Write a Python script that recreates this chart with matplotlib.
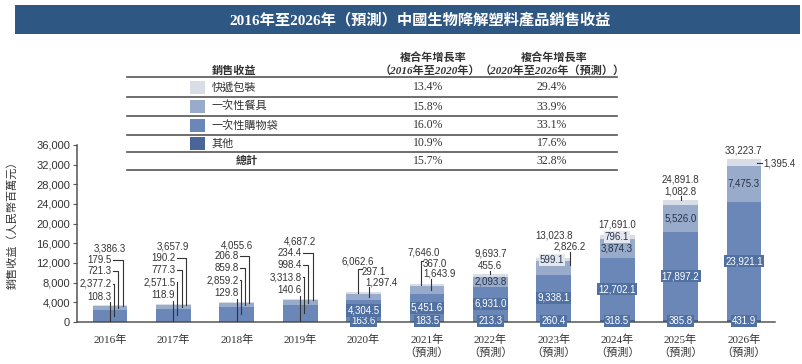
import numpy as np
import matplotlib
matplotlib.use('Agg')
import matplotlib.pyplot as plt
from matplotlib.patches import Rectangle
from matplotlib.lines import Line2D

plt.rcParams['font.family'] = ['Liberation Sans', 'Noto Sans CJK TC']

### ----- Dados ----- ###

years = ['2016年', '2017年', '2018年', '2019年', '2020年', '2021年',
         '2022年', '2023年', '2024年', '2025年', '2026年']
forecast = [False, False, False, False, False, True, True, True, True, True, True]

other = [108.3, 118.9, 129.8, 140.6, 163.6, 183.5, 213.3, 260.4, 318.5, 385.8, 431.9]
bags = [2377.2, 2571.5, 2859.2, 3313.8, 4304.5, 5451.6, 6931.0, 9338.1, 12702.1, 17897.2, 23921.1]
tableware = [721.3, 777.3, 859.8, 998.4, 1297.4, 1643.9, 2093.8, 2826.2, 3874.3, 5526.0, 7475.3]
express = [179.5, 190.2, 206.8, 234.4, 297.1, 367.0, 455.6, 599.1, 796.1, 1082.8, 1395.4]
totals = [3386.3, 3657.9, 4055.6, 4687.2, 6062.6, 7646.0, 9693.7, 13023.8, 17691.0, 24891.8, 33223.7]

segments = ['快遞包裝', '一次性餐具', '一次性購物袋', '其他']
cagr_1620 = ['13.4%', '15.8%', '16.0%', '10.9%', '15.7%']
cagr_2026 = ['29.4%', '33.9%', '33.1%', '17.6%', '32.8%']

title = '2016年至2026年（預測）中國生物降解塑料產品銷售收益'

### ----- Estilo ----- ###

W, H = 803, 364
c_exp = '#d8dde6'
c_tab = '#98abcb'
c_bag = '#6b87b8'
c_oth = '#4a6699'
c_box = '#5171a3'
txt = '#333333'
serif = ['Liberation Serif', 'Noto Sans CJK TC']
cjk = ['Noto Sans CJK TC', 'DejaVu Sans']


def fx(px):
    return px / W


def fy(py):
    return 1 - py / H


def fmt(v):
    return f'{v:,.1f}'


fig = plt.figure(figsize=(W / 100, H / 100), dpi=100)

# Banner do titulo
fig.add_artist(Rectangle((fx(15), fy(34)), fx(800) - fx(15), 29 / H,
                         transform=fig.transFigure, facecolor='#2f5783', edgecolor='none'))
fig.text(fx(420), fy(19.5), title, color='white', fontsize=11, fontweight='bold',
         family=serif, ha='center', va='center')

# Tabela
for py in [77, 97, 116, 135, 152, 170]:
    fig.add_artist(Line2D([fx(127), fx(617)], [fy(py), fy(py)], transform=fig.transFigure,
                          color='#555555', lw=1.2))

hdr = dict(fontsize=8, fontweight='bold', style='italic', family=serif, ha='center',
           va='center', color=txt)
fig.text(fx(433), fy(58), '複合年增長率', **hdr)
fig.text(fx(430), fy(71), '（2016年至2020年）', **hdr)
fig.text(fx(554), fy(58), '複合年增長率', **hdr)
fig.text(fx(552), fy(71), '（2020年至2026年（預測））', **hdr)
fig.text(fx(234), fy(71), '銷售收益', **hdr)

row_y = [87, 106.5, 125.5, 143.5, 161]
cols = [c_exp, c_tab, c_bag, c_oth]
for k in range(4):
    fig.add_artist(Rectangle((fx(190), fy(row_y[k] + 6.5)), 15 / W, 13 / H,
                             transform=fig.transFigure, facecolor=cols[k], edgecolor='none'))
    fig.text(fx(212), fy(row_y[k]), segments[k], fontsize=8, family=cjk, ha='left',
             va='center', color=txt)
fig.text(fx(247), fy(row_y[4]), '總計', **hdr)
for k in range(5):
    fig.text(fx(428), fy(row_y[k]), cagr_1620[k], fontsize=8.5, family=serif,
             ha='center', va='center', color=txt)
    fig.text(fx(552), fy(row_y[k]), cagr_2026[k], fontsize=8.5, family=serif,
             ha='center', va='center', color=txt)

# Grafico de barras
ax = fig.add_axes([fx(77), fy(322), (775 - 77) / W, 177 / H])
x = np.arange(len(years))
b1 = np.array(other)
b2 = b1 + np.array(bags)
b3 = b2 + np.array(tableware)
wid = 0.55
ax.bar(x, other, wid, color=c_oth, zorder=2)
ax.bar(x, bags, wid, bottom=b1, color=c_bag, zorder=2)
ax.bar(x, tableware, wid, bottom=b2, color=c_tab, zorder=2)
ax.bar(x, express, wid, bottom=b3, color=c_exp, zorder=2)

ax.set_xlim(-0.52, 10.49)
ax.set_ylim(0, 36000)
ax.set_yticks(range(0, 36001, 4000))
ax.set_yticklabels([f'{v:,}' for v in range(0, 36001, 4000)], fontsize=8, color=txt)
ax.set_xticks(x)
ax.set_xticklabels([y + ('\n（預測）' if f else '') for y, f in zip(years, forecast)],
                   fontsize=8, family=serif, color=txt, linespacing=1.3)
ax.tick_params(axis='x', length=0, pad=9)
ax.tick_params(axis='y', length=3, color='#555555', pad=2)
for s in ['top', 'right']:
    ax.spines[s].set_visible(False)
for s in ['left', 'bottom']:
    ax.spines[s].set_color('#555555')
    ax.spines[s].set_linewidth(1.1)

fig.text(fx(12), fy(222), '銷售收益（人民幣百萬元）', rotation=90, fontsize=8, family=cjk,
         ha='center', va='center', color=txt)

lab = dict(fontsize=7, color=txt, zorder=6)
lk = dict(color=txt, lw=0.8, zorder=5)


def boxed(xx, yy, s):
    ax.text(xx, yy, s, ha='center', va='center', fontsize=7, color='white', zorder=7,
            bbox=dict(boxstyle='square,pad=0.12', fc=c_box, ec='none'))


def inner(xx, yy, s, fc=None):
    bb = dict(boxstyle='square,pad=0.1', fc=fc, ec='none') if fc else None
    ax.text(xx, yy, s, ha='center', va='center', fontsize=7, color='#26324a', zorder=7,
            bbox=bb)


# 2016-2019: rotulos empilhados a esquerda
for i in range(4):
    top = totals[i]
    ax.text(i, top + 11600, fmt(top), ha='center', va='center', **lab)
    items = [(express[i], 9300, 0.20, top - 120),
             (tableware[i], 7000, 0.13, (b2[i] + b3[i]) / 2),
             (bags[i], 4400, 0.06, (b1[i] + b2[i]) / 2)]
    for v, off, lx, ty in items:
        yy = top + off
        ax.text(i + 0.03, yy, fmt(v), ha='right', va='center', **lab)
        ax.plot([i + 0.05, i + lx, i + lx], [yy, yy, ty], **lk)
    yy = top + 1800
    ax.text(i + 0.03, yy, fmt(other[i]), ha='right', va='center', **lab)
    ax.plot([i, i], [yy - 1100, 0], **lk)

# 2020-2026: rotulos dentro das barras
for i in range(4, 11):
    boxed(i, 150, fmt(other[i]))
    boxed(i, (b1[i] + b2[i]) / 2, fmt(bags[i]))

# 2020
i = 4
ax.text(i - 0.09, totals[i] + 6200, fmt(totals[i]), ha='center', va='center', **lab)
ax.text(i - 0.03, totals[i] + 4100, fmt(express[i]), ha='left', va='center', **lab)
ax.plot([i - 0.03, i - 0.09, i - 0.09], [totals[i] + 4800, totals[i] + 4800, totals[i] - 150], **lk)
ax.text(i + 0.02, totals[i] + 1950, fmt(tableware[i]), ha='left', va='center', **lab)
ax.plot([i + 0.085, i + 0.085], [totals[i] + 1000, (b2[i] + b3[i]) / 2], **lk)

# 2021
i = 5
ax.text(i - 0.05, totals[i] + 6400, fmt(totals[i]), ha='center', va='center', **lab)
ax.text(i - 0.06, totals[i] + 4150, fmt(express[i]), ha='left', va='center', **lab)
ax.plot([i - 0.06, i - 0.1, i - 0.1], [totals[i] + 4850, totals[i] + 4850, totals[i] - 200], **lk)
ax.text(i - 0.05, totals[i] + 2250, fmt(tableware[i]), ha='left', va='center', **lab)
ax.plot([i + 0.06, i + 0.06], [totals[i] + 1100, (b2[i] + b3[i]) / 2], **lk)

# 2022
i = 6
ax.text(i, totals[i] + 4150, fmt(totals[i]), ha='center', va='center', **lab)
ax.text(i, totals[i] + 1700, fmt(express[i]), ha='center', va='center', **lab)
ax.plot([i, i], [totals[i] + 750, totals[i]], **lk)
inner(i, (b2[i] + b3[i]) / 2, fmt(tableware[i]))

# 2023
i = 7
ax.text(i, totals[i] + 4650, fmt(totals[i]), ha='center', va='center', **lab)
ax.text(i + 0.25, totals[i] + 2250, fmt(tableware[i]), ha='center', va='center', **lab)
ax.plot([i + 0.25, i + 0.25], [totals[i] + 1250, (b2[i] + b3[i]) / 2 + 500], **lk)
inner(i - 0.03, (b3[i] + totals[i]) / 2 - 100, fmt(express[i]), fc='#e4e7ee')

# 2024
i = 8
ax.text(i, totals[i] + 2050, fmt(totals[i]), ha='center', va='center', **lab)
inner(i, (b3[i] + totals[i]) / 2, fmt(express[i]), fc='#e4e7ee')
inner(i, (b2[i] + b3[i]) / 2, fmt(tableware[i]))

# 2025
i = 9
ax.text(i, totals[i] + 4000, fmt(totals[i]), ha='center', va='center', **lab)
ax.text(i, totals[i] + 1550, fmt(express[i]), ha='center', va='center', **lab)
ax.plot([i, i], [totals[i] + 650, totals[i]], **lk)
inner(i, (b2[i] + b3[i]) / 2, fmt(tableware[i]))

# 2026
i = 10
ax.text(i, totals[i] + 1750, fmt(totals[i]), ha='center', va='center', **lab)
ym = (b3[i] + totals[i]) / 2 - 200
ax.plot([i + 0.2, i + 0.28], [ym, ym], **lk)
ax.text(i + 0.3, ym, fmt(express[i]), ha='left', va='center', **lab)
inner(i, (b2[i] + b3[i]) / 2, fmt(tableware[i]))

fig.savefig('out.png', dpi=100)
